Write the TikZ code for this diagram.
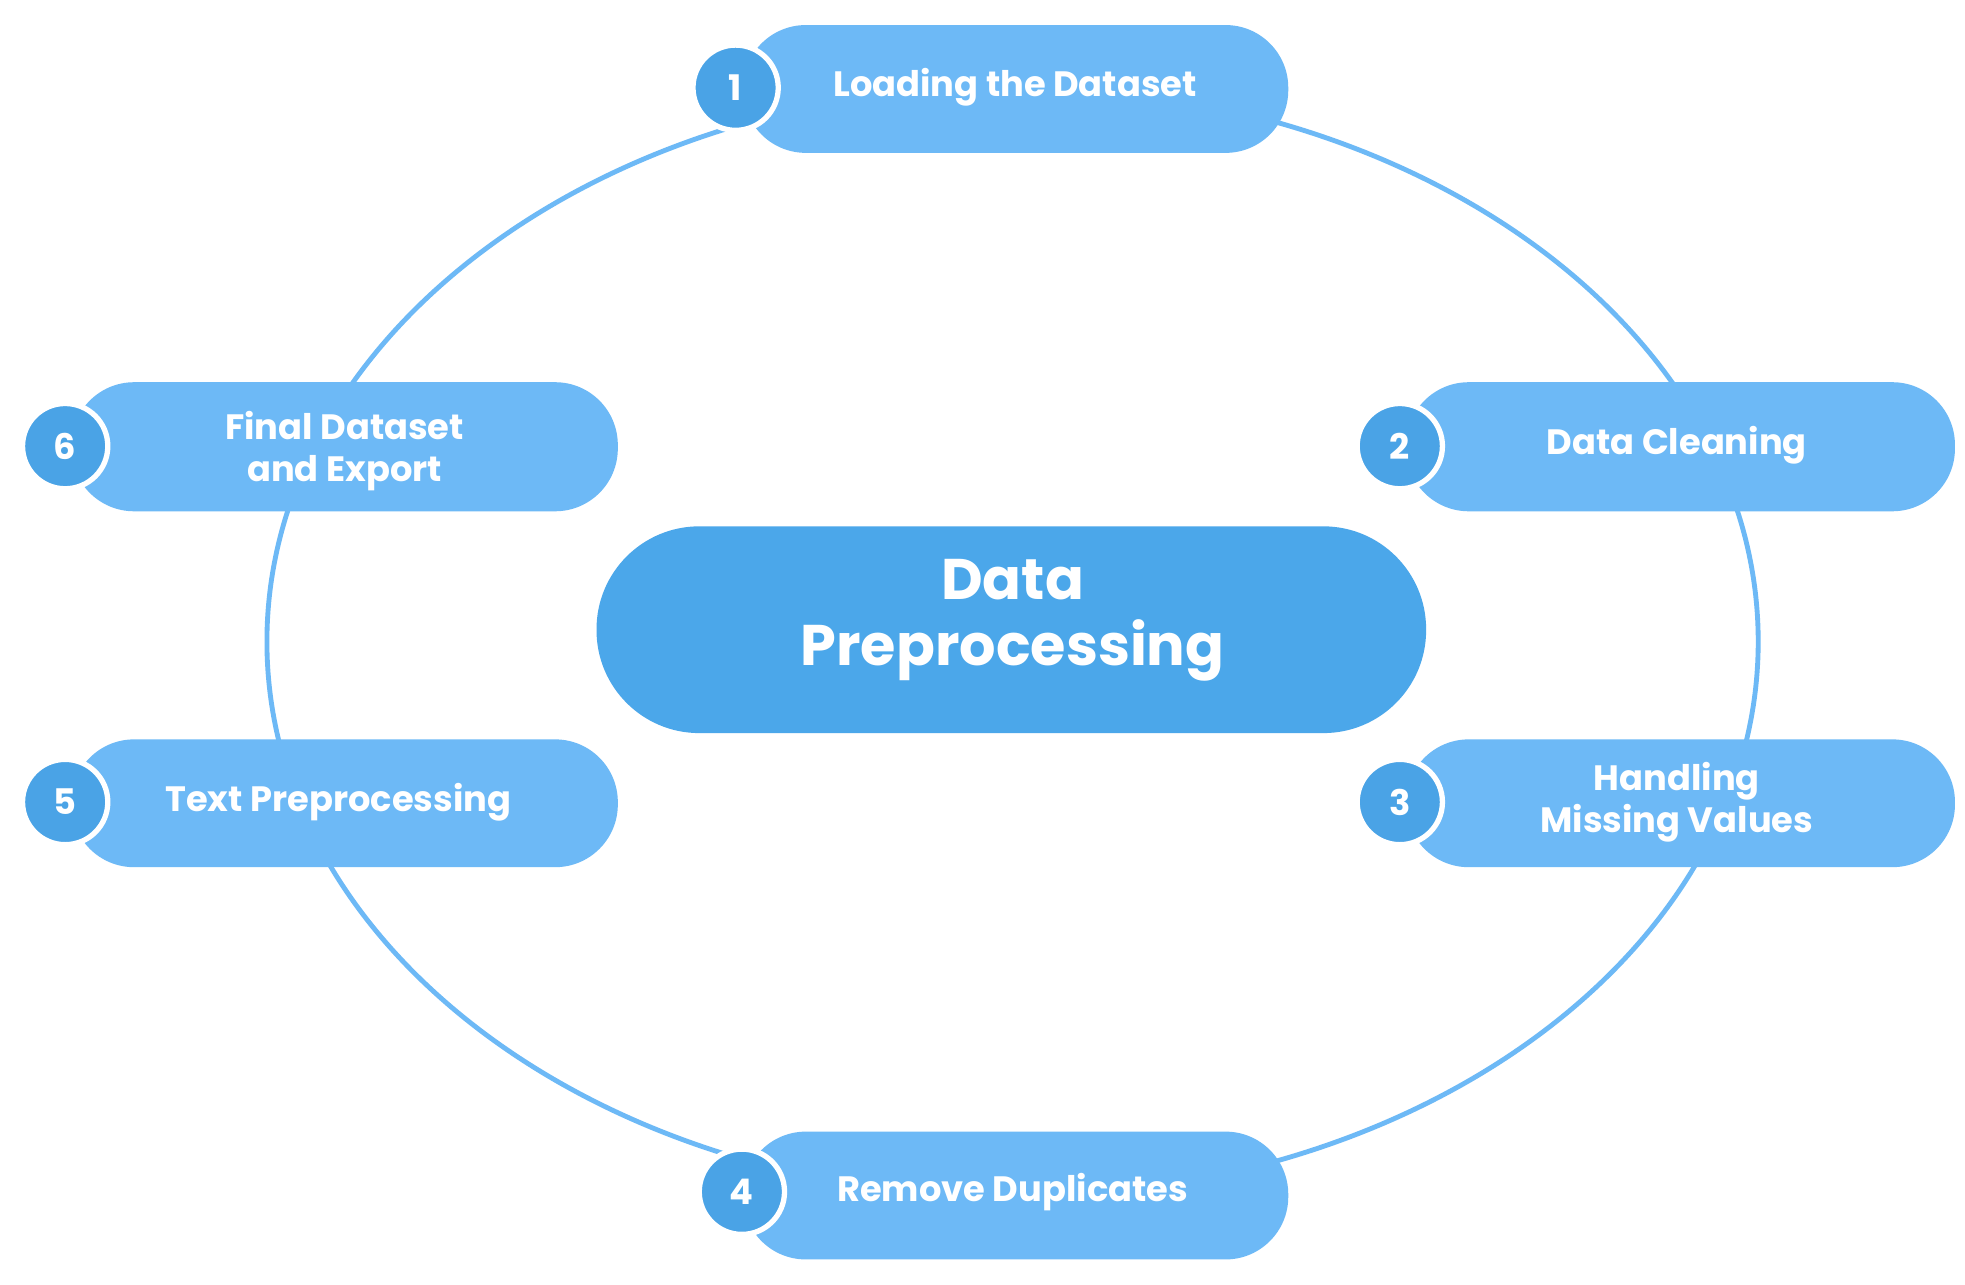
\documentclass[tikz,border=0pt]{standalone}
\usepackage{fontspec}
\setmainfont{Poppins}
\begin{document}
\begin{tikzpicture}[x=0.01cm,y=-0.01cm,
  pill/.style={fill=pillc,rounded corners=50\pgflinewidth, draw=none},
  num/.style={circle,fill=numc,draw=white,line width=1.2pt,minimum size=0.68cm,inner sep=0pt,text=white,font=\bfseries\fontsize{8}{9}\selectfont},
  lab/.style={text=white,align=center,font=\bfseries\fontsize{8}{9.5}\selectfont}]
\definecolor{pillc}{HTML}{6DB9F6}
\definecolor{numc}{HTML}{4AA3E6}
\definecolor{cenc}{HTML}{4BA7EA}
\useasboundingbox (0,0) rectangle (1568,1025);
\fill[white] (0,0) rectangle (1568,1025);
\draw[pillc,line width=1.1pt] (808,512) ellipse [x radius=595, y radius=443];
% pills
\foreach \n/\xa/\xb/\ya/\yb in {p1/593/1028/20/122,p2/1122/1560/305/408,p3/1122/1560/590/692,p4/593/1028/903/1005,p5/57/493/590/692,p6/57/493/305/408}{
  \fill[pillc,rounded corners=0.5cm] (\xa,\ya) rectangle (\xb,\yb);
  \coordinate (\n) at ({(\xa+\xb)/2},{(\ya+\yb)/2});
}
\fill[cenc,rounded corners=0.82cm] (476,420) rectangle (1138,585);
\node[text=white,align=center,font=\bfseries\fontsize{13}{15}\selectfont] (c) at (808,495) {Data\\Preprocessing};
\node[num] (n1) at (587,70) {1};
\node[num] (n2) at (1117,356) {2};
\node[num] (n3) at (1117,640) {3};
\node[num] (n4) at (592,951) {4};
\node[num] (n5) at (52,640) {5};
\node[num] (n6) at (52,356) {6};
\node[lab] (t1) at (810,70) {Loading the Dataset};
\node[lab] (t2) at (1338,355) {Data Cleaning};
\node[lab] (t3) at (1338,640) {Handling\\Missing Values};
\node[lab] (t4) at (808,951) {Remove Duplicates};
\node[lab] (t5) at (270,640) {Text Preprocessing};
\node[lab] (t6) at (275,360) {Final Dataset\\and Export};
\end{tikzpicture}
\end{document}
